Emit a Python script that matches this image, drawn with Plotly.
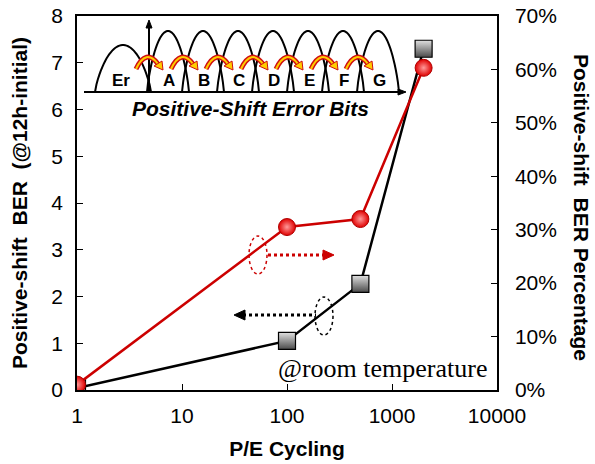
import numpy as np
import plotly.graph_objects as go

# ---------------- data ----------------
pe_cycles = [1, 100, 500, 2000]
ber_shift = [0.04, 1.05, 2.27, 7.3]          # left axis
ber_pct = [0.01, 0.305, 0.32, 0.603]         # right axis (fraction)
x_ticks = [1, 10, 100, 1000, 10000]
state_labels = ["Er", "A", "B", "C", "D", "E", "F", "G"]

W, H = 595, 464
L, R, T, B = 77, 497, 16, 390

def px(x):
    return (x - L) / (R - L)

def py(y):
    return (B - y) / (B - T)

fig = go.Figure()
fig.add_trace(go.Scatter(
    x=pe_cycles, y=ber_shift, mode="lines+markers",
    line=dict(color="black", width=2.5),
    marker=dict(symbol="square", size=17, color="#e0e0e0",
                gradient=dict(type="vertical", color="#4a4a4a"),
                line=dict(color="black", width=1.2)),
    showlegend=False))
fig.add_trace(go.Scatter(
    x=pe_cycles, y=ber_pct, mode="lines+markers", yaxis="y2",
    line=dict(color="#cc0000", width=2.5),
    marker=dict(symbol="circle", size=17, color="#e00000",
                gradient=dict(type="radial", color="#ff9a9a"),
                line=dict(color="#b00000", width=1)),
    showlegend=False))

shapes = []
annotations = []

def note(x, y, text, size, family="Liberation Sans", xanchor="center", angle=0):
    annotations.append(dict(x=px(x), y=py(y), xref="paper", yref="paper",
                            xanchor=xanchor, yanchor="middle", text=text,
                            showarrow=False, textangle=angle,
                            font=dict(family=family, size=size, color="black")))

# --- inset: Vth distributions ---
base_y = 92
def bell(cx, hw, top):
    xs = np.linspace(cx - hw, cx + hw, 40)
    t = (xs - cx) / hw
    ys = base_y - (base_y - top) * (1 - t ** 2) ** 0.8
    pts = " L ".join(f"{px(a):.4f},{py(b):.4f}" for a, b in zip(xs, ys))
    return "M " + pts

shapes.append(dict(type="path", xref="paper", yref="paper",
                   path=bell(123, 28, 45), line=dict(color="black", width=2)))
peaks = [168 + 35 * i for i in range(7)]
for cx in peaks:
    shapes.append(dict(type="path", xref="paper", yref="paper",
                       path=bell(cx, 21, 31), line=dict(color="black", width=2)))
# axes of inset
shapes.append(dict(type="line", xref="paper", yref="paper",
                   x0=px(84), y0=py(base_y), x1=px(402), y1=py(base_y),
                   line=dict(color="black", width=2)))
shapes.append(dict(type="path", xref="paper", yref="paper",
                   path=f"M {px(406)},{py(base_y)} L {px(398)},{py(base_y-3)} L {px(398)},{py(base_y+3)} Z",
                   fillcolor="black", line=dict(color="black", width=1)))
shapes.append(dict(type="line", xref="paper", yref="paper",
                   x0=px(149), y0=py(base_y), x1=px(149), y1=py(25),
                   line=dict(color="black", width=2)))
shapes.append(dict(type="path", xref="paper", yref="paper",
                   path=f"M {px(149)},{py(20)} L {px(146)},{py(28)} L {px(152)},{py(28)} Z",
                   fillcolor="black", line=dict(color="black", width=1)))
# state labels
label_x = [121] + [169 + 35 * i for i in range(7)]
for lab, lx in zip(state_labels, label_x):
    note(lx, 80, f"<b>{lab}</b>", 17)
# curved shift arrows
for i in range(7):
    c = 148 + 35 * i
    x0, x1 = c - 12, c + 10
    p = (f"M {px(x0)},{py(69)} Q {px(c-2)},{py(48)} {px(x1)},{py(64)}")
    shapes.append(dict(type="path", xref="paper", yref="paper", path=p,
                       line=dict(color="#d01010", width=5)))
    shapes.append(dict(type="path", xref="paper", yref="paper", path=p,
                       line=dict(color="#ffcc00", width=2)))
    shapes.append(dict(type="path", xref="paper", yref="paper",
                       path=f"M {px(x1+5)},{py(70)} L {px(x1-4)},{py(66)} L {px(x1+4)},{py(61)} Z",
                       fillcolor="#ffcc00", line=dict(color="#d01010", width=1)))
note(250, 108, "<b><i>Positive-Shift Error Bits</i></b>", 21)

# --- dotted ellipses and arrows ---
shapes.append(dict(type="circle", xref="paper", yref="paper",
                   x0=px(249), x1=px(267), y0=py(236), y1=py(274),
                   line=dict(color="#cc0000", width=1.5, dash="dot")))
shapes.append(dict(type="line", xref="paper", yref="paper",
                   x0=px(268), x1=px(325), y0=py(255), y1=py(255),
                   line=dict(color="#cc0000", width=3, dash="dot")))
shapes.append(dict(type="path", xref="paper", yref="paper",
                   path=f"M {px(334)},{py(255)} L {px(323)},{py(250)} L {px(323)},{py(260)} Z",
                   fillcolor="#cc0000", line=dict(color="#cc0000", width=1)))
shapes.append(dict(type="circle", xref="paper", yref="paper",
                   x0=px(315), x1=px(333), y0=py(297), y1=py(335),
                   line=dict(color="black", width=1.5, dash="dot")))
shapes.append(dict(type="line", xref="paper", yref="paper",
                   x0=px(243), x1=px(316), y0=py(315), y1=py(315),
                   line=dict(color="black", width=3, dash="dot")))
shapes.append(dict(type="path", xref="paper", yref="paper",
                   path=f"M {px(234)},{py(315)} L {px(245)},{py(310)} L {px(245)},{py(320)} Z",
                   fillcolor="black", line=dict(color="black", width=1)))

note(489, 368, "@room temperature", 26, family="Liberation Serif", xanchor="right")
# right axis title (reads top to bottom)
note(582, 207, "<b>Positive-shift  BER Percentage</b>", 21, angle=90)

tickfont = dict(family="Liberation Sans", size=21, color="black")
fig.update_layout(
    width=W, height=H, autosize=False,
    margin=dict(l=L, r=W - R, t=T, b=H - B),
    paper_bgcolor="white", plot_bgcolor="white",
    shapes=shapes, annotations=annotations,
    xaxis=dict(type="log", range=[0, 4], tickvals=x_ticks,
               ticktext=[str(v) for v in x_ticks], automargin=False,
               ticks="inside", ticklen=6, tickwidth=1.2, tickcolor="black",
               showline=True, linecolor="black", linewidth=1.5, mirror=True,
               showgrid=False, zeroline=False, tickfont=tickfont, ticklabelstandoff=6,
               title=dict(text="<b>P/E Cycling</b>", standoff=15,
                          font=dict(family="Liberation Sans", size=21, color="black"))),
    yaxis=dict(range=[0, 8], dtick=1, ticks="inside", ticklen=6, tickwidth=1.2,
               tickcolor="black", showline=True, linecolor="black", linewidth=1.5,
               showgrid=False, zeroline=False, tickfont=tickfont, automargin=False,
               ticklabelstandoff=8,
               title=dict(text="<b>Positive-shift  BER  (@12h-initial)</b>", standoff=18,
                          font=dict(family="Liberation Sans", size=21, color="black"))),
    yaxis2=dict(range=[0, 0.7], dtick=0.1, tickformat=".0%", overlaying="y", side="right",
                ticks="inside", ticklen=6, tickwidth=1.2, tickcolor="black",
                showline=True, linecolor="black", linewidth=1.5, automargin=False,
                ticklabelstandoff=12,
                showgrid=False, zeroline=False, tickfont=tickfont),
)

fig.write_html("out.html")
